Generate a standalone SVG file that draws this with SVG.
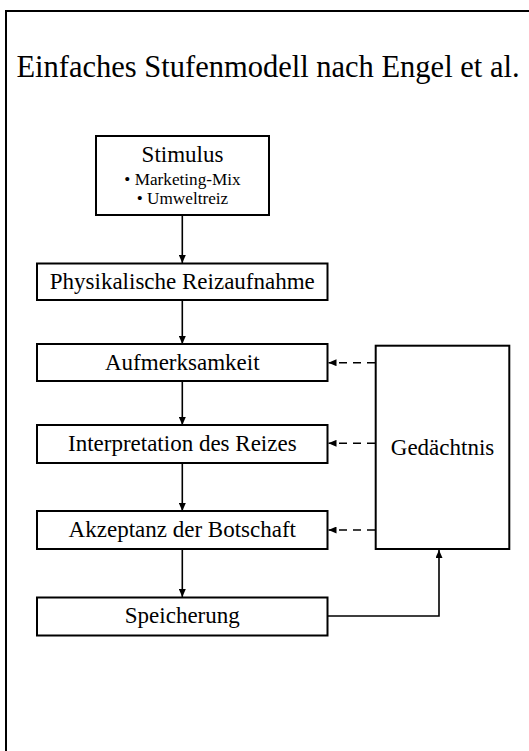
<svg xmlns="http://www.w3.org/2000/svg" width="529" height="751" viewBox="0 0 529 751">
<style>
.box{fill:#fff;stroke:#000;stroke-width:2}
.t{font-family:"Liberation Serif","Times New Roman",serif;font-size:23px;fill:#000;text-anchor:middle}
.s{font-family:"Liberation Serif","Times New Roman",serif;font-size:17.2px;fill:#000;text-anchor:middle}
.c{fill:none;stroke:#000;stroke-width:1.6}
.d{fill:none;stroke:#000;stroke-width:1.6;stroke-dasharray:8 6}
</style>
<defs>
<marker id="ah" viewBox="0 0 8 7" refX="8" refY="3.5" markerWidth="8" markerHeight="7" markerUnits="userSpaceOnUse" orient="auto">
<path d="M0,0 L8,3.5 L0,7 Z" fill="#000"/>
</marker>
</defs>
<rect x="6" y="11" width="600" height="800" fill="#fff" stroke="#000" stroke-width="2"/>
<text x="268" y="77" font-family="'Liberation Serif','Times New Roman',serif" font-size="30.5" text-anchor="middle">Einfaches Stufenmodell nach Engel et al.</text>
<g id="connectors">
<line class="c" x1="182.3" y1="215" x2="182.3" y2="263" marker-end="url(#ah)"/>
<line class="c" x1="182.3" y1="300" x2="182.3" y2="344" marker-end="url(#ah)"/>
<line class="c" x1="182.3" y1="381" x2="182.3" y2="425" marker-end="url(#ah)"/>
<line class="c" x1="182.3" y1="463" x2="182.3" y2="511" marker-end="url(#ah)"/>
<line class="c" x1="182.3" y1="549" x2="182.3" y2="597" marker-end="url(#ah)"/>
<line class="d" x1="375" y1="362.7" x2="328.5" y2="362.7" marker-end="url(#ah)"/>
<line class="d" x1="375" y1="443.3" x2="328.5" y2="443.3" marker-end="url(#ah)"/>
<line class="d" x1="375" y1="530" x2="328.5" y2="530" marker-end="url(#ah)"/>
<polyline class="c" points="328,616 439,616 439,550" marker-end="url(#ah)"/>
</g>
<g id="stimulus">
<rect class="box" x="96" y="136" width="173" height="79"/>
<text class="t" x="182.5" y="161.7">Stimulus</text>
<text class="s" x="182.5" y="185">• Marketing-Mix</text>
<text class="s" x="182.5" y="204.3">• Umweltreiz</text>
</g>
<g id="reizaufnahme">
<rect class="box" x="37" y="263.5" width="290.5" height="36.5"/>
<text class="t" x="182.3" y="289">Physikalische Reizaufnahme</text>
</g>
<g id="aufmerksamkeit">
<rect class="box" x="37" y="344" width="290.5" height="37"/>
<text class="t" x="182.3" y="370">Aufmerksamkeit</text>
</g>
<g id="interpretation">
<rect class="box" x="37" y="425" width="290.5" height="38"/>
<text class="t" x="182.3" y="451">Interpretation des Reizes</text>
</g>
<g id="akzeptanz">
<rect class="box" x="37" y="511" width="290.5" height="38"/>
<text class="t" x="182.3" y="537">Akzeptanz der Botschaft</text>
</g>
<g id="speicherung">
<rect class="box" x="37" y="597.5" width="290.5" height="38"/>
<text class="t" x="182.3" y="623">Speicherung</text>
</g>
<g id="gedaechtnis">
<rect class="box" x="375.7" y="345.7" width="133.6" height="203.3"/>
<text class="t" x="442.5" y="455">Gedächtnis</text>
</g>
</svg>
